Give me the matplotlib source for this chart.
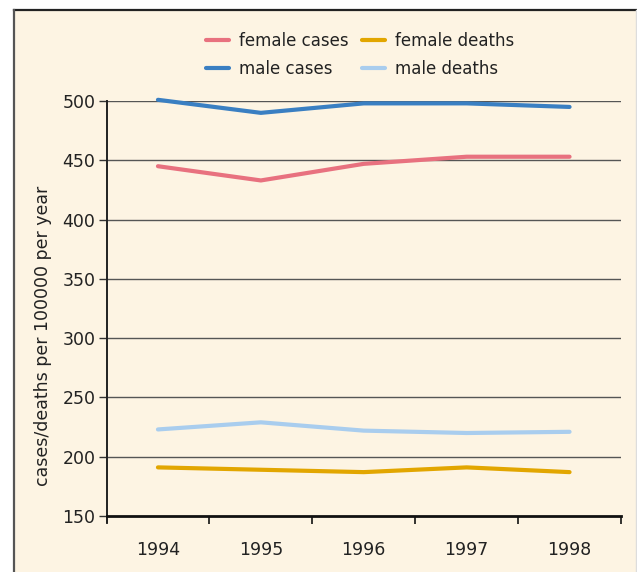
import matplotlib
matplotlib.use('Agg')
import matplotlib.pyplot as plt
import matplotlib.patches as patches
import numpy as np

plt.rcParams['font.family'] = ['Liberation Sans Narrow', 'DejaVu Sans']

# Data
years = ['1994', '1995', '1996', '1997', '1998']
female_cases = [445, 433, 447, 453, 453]
male_cases = [501, 490, 498, 498, 495]
female_deaths = [191, 189, 187, 191, 187]
male_deaths = [223, 229, 222, 220, 221]

y_ticks = [150, 200, 250, 300, 350, 400, 450, 500]

fig = plt.figure(figsize=(6.37, 5.72), dpi=100)
fig.patch.set_facecolor('white')

# Cream panel with border
panel = patches.Rectangle((14 / 637, -0.05), (636 - 14) / 637, 1.05 - 9 / 572,
                          transform=fig.transFigure, facecolor='#fdf4e3',
                          edgecolor='none', zorder=-5)
fig.add_artist(panel)
fig.add_artist(plt.Line2D([14 / 637, 1.0], [1 - 9.5 / 572] * 2, transform=fig.transFigure,
                          color='#222222', lw=1.6))
fig.add_artist(plt.Line2D([14 / 637] * 2, [0, 1 - 9.5 / 572], transform=fig.transFigure,
                          color='#555555', lw=1.6))
fig.add_artist(plt.Line2D([636 / 637] * 2, [0, 1 - 9.5 / 572], transform=fig.transFigure,
                          color='#dddddd', lw=1.0))

ax = fig.add_axes([106.5 / 637, 56 / 572, (621 - 106.5) / 637, (516 - 101) / 572])
ax.set_facecolor('none')

x = np.arange(len(years))
series = [
    (female_cases, '#e8717f', 'female cases'),
    (male_cases, '#3a7fc2', 'male cases'),
    (female_deaths, '#e2a600', 'female deaths'),
    (male_deaths, '#a9cdee', 'male deaths'),
]
for vals, col, lab in series:
    ax.plot(x, vals, color=col, lw=3.0, label=lab, clip_on=False,
            solid_capstyle='round', zorder=3)

ax.set_xlim(-0.5, 4.5)
ax.set_ylim(150, 500)
ax.set_yticks(y_ticks)
ax.set_yticklabels([str(v) for v in y_ticks], fontsize=12.5, color='#222222')
for v in y_ticks[1:]:
    ax.axhline(v, color='#555555', lw=1.0, zorder=1)

ax.set_xticks(x)
ax.set_xticklabels(years, fontsize=12.5, color='#222222')
ax.tick_params(axis='x', which='major', length=0, pad=18)
ax.set_xticks(np.arange(-0.5, 5, 1), minor=True)
ax.tick_params(axis='x', which='minor', length=6, width=1.2, direction='out', color='#111111')
ax.tick_params(axis='y', length=6, width=1.0, direction='out', color='#333333', pad=2)

for s in ['top', 'right']:
    ax.spines[s].set_visible(False)
ax.spines['bottom'].set_linewidth(2.0)
ax.spines['bottom'].set_color('#111111')
ax.spines['left'].set_linewidth(1.4)
ax.spines['left'].set_color('#222222')
ax.spines['left'].set_bounds(145, 500)

ax.set_ylabel('cases/deaths per 100000 per year', fontsize=12.5, color='#222222')
ax.yaxis.set_label_coords(-0.106, 0.434)

leg = ax.legend(ncol=2, loc='center', bbox_to_anchor=(360 / 637, 1 - 54.5 / 572),
                bbox_transform=fig.transFigure, frameon=False, fontsize=12,
                handlelength=1.4, handletextpad=0.6, columnspacing=0.8,
                labelspacing=0.6)
for t in leg.get_texts():
    t.set_color('#222222')

fig.savefig('out.png', dpi=100, facecolor=fig.get_facecolor())
